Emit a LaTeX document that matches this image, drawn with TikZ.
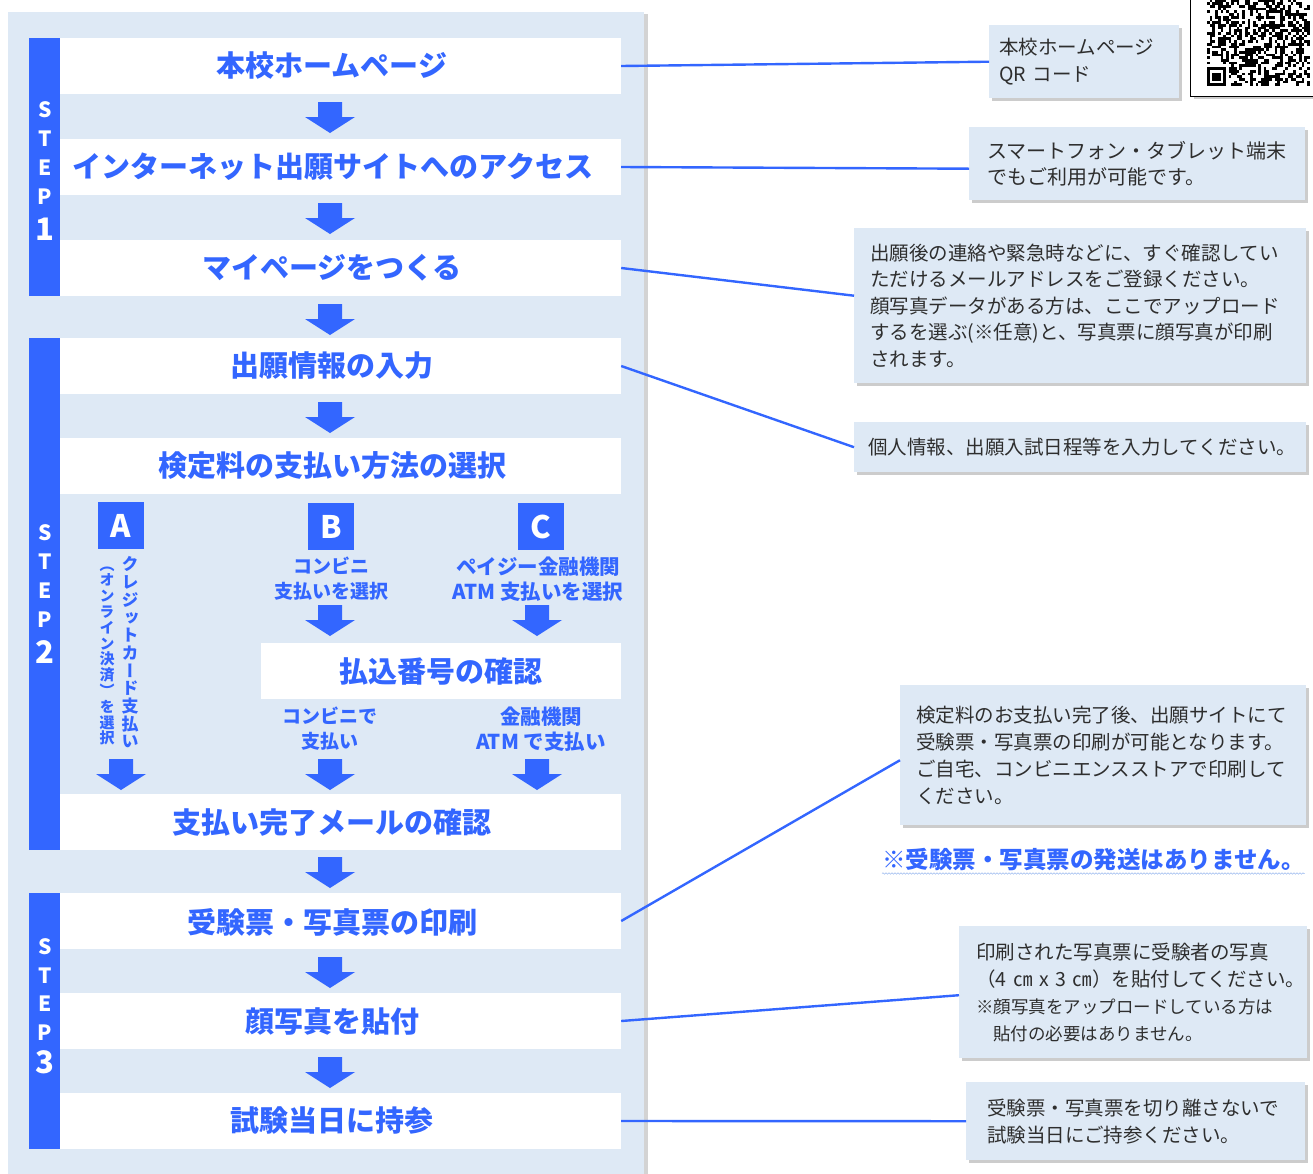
\documentclass[tikz,border=0pt]{standalone}
\usepackage{fontspec}
\setmainfont{Noto Sans CJK JP}
\newfontfamily\jpvert{Noto Sans CJK JP}[RawFeature=+vert]
\usetikzlibrary{shadows,decorations.pathmorphing}
\definecolor{panelbg}{HTML}{DEE9F5}
\definecolor{mainblue}{HTML}{3366FF}
\definecolor{notetext}{HTML}{2E2E2E}
\definecolor{wavyblue}{HTML}{9DBBEF}
\tikzset{
  panelfill/.style={fill=panelbg, drop shadow={shadow xshift=4pt, shadow yshift=-2pt, opacity=0.35}},
  stepbar/.style={fill=mainblue, inner sep=0, minimum width=31},
  steptxt/.style={text=white, font=\fontsize{21}{28.7}\selectfont\bfseries, align=center, inner sep=0},
  stepnum/.style={text=white, font=\fontsize{31}{33}\selectfont\bfseries, inner sep=0},
  wbox/.style={fill=white, inner sep=0, minimum height=56, minimum width=561},
  ttl/.style={text=mainblue, font=\fontsize{29}{31}\selectfont\bfseries, inner sep=0},
  sublbl/.style={text=mainblue, font=\fontsize{19}{25}\selectfont\bfseries, align=center, inner sep=0},
  sublblc/.style={sublbl, font=\fontsize{20.5}{25}\selectfont\bfseries},
  letterbox/.style={fill=mainblue, text=white, minimum width=46, minimum height=47, inner sep=0, font=\fontsize{31}{33}\selectfont\bfseries},
  vcol/.style={text=mainblue, align=center, inner sep=0},
  note/.style={fill=panelbg, anchor=north west, align=left, text=notetext, inner ysep=0, font=\fontsize{19.5}{26.5}\selectfont, drop shadow={shadow xshift=3pt, shadow yshift=-3pt, opacity=0.4}},
  link/.style={draw=mainblue, line width=2.4pt},
  darrow/.pic={\fill[mainblue] (-12,0) -- (12,0) -- (12,15) -- (25,15) -- (0,31) -- (-25,15) -- (-12,15) -- cycle;},
}
\begin{document}
\begin{tikzpicture}[x=1pt,y=-1pt]
\useasboundingbox (0,0) rectangle (1313,1173);
% panel
\fill[panelfill] (8,12) rectangle (644,1195);
% step bars
\node[stepbar, minimum height=258] (sb1) at (44.5,167) {};
\node[stepbar, minimum height=512] (sb2) at (44.5,594) {};
\node[stepbar, minimum height=256] (sb3) at (44.5,1021) {};
\node[steptxt] (st1) at (45,153) {S\\T\\E\\P};
\node[stepnum] (sn1) at (45,229) {1};
\node[steptxt] (st2) at (45,576) {S\\T\\E\\P};
\node[stepnum] (sn2) at (45,652) {2};
\node[steptxt] (st3) at (45,989.5) {S\\T\\E\\P};
\node[stepnum] (sn3) at (45,1062) {3};
% white boxes
\node[wbox] (b1) at (340.5,66) {};
\node[wbox] (b2) at (340.5,167) {};
\node[wbox] (b3) at (340.5,268) {};
\node[wbox] (b4) at (340.5,366) {};
\node[wbox] (b5) at (340.5,466) {};
\node[wbox, minimum width=360] (b6) at (441,671) {};
\node[wbox] (b7) at (340.5,822) {};
\node[wbox] (b8) at (340.5,921) {};
\node[wbox] (b9) at (340.5,1021) {};
\node[wbox] (b10) at (340.5,1121) {};
% titles
\node[ttl] (t1) at (332,66) {本校ホームページ};
\node[ttl] (t2) at (333,167) {インターネット出願サイトへのアクセス};
\node[ttl] (t3) at (332,268) {マイページをつくる};
\node[ttl] (t4) at (332,366) {出願情報の入力};
\node[ttl] (t5) at (332,466) {検定料の支払い方法の選択};
\node[ttl] (t6) at (441,671) {払込番号の確認};
\node[ttl] (t7) at (332,822) {支払い完了メールの確認};
\node[ttl] (t8) at (332,922) {受験票・写真票の印刷};
\node[ttl] (t9) at (332,1021) {顔写真を貼付};
\node[ttl] (t10) at (332,1121) {試験当日に持参};
% arrows
\foreach \ay in {102,203,304,402,857,957,1057} {\pic at (330,\ay) {darrow};}
\pic at (330,605) {darrow};
\pic at (537,605) {darrow};
\pic at (121,759) {darrow};
\pic at (330,759) {darrow};
\pic at (537,759) {darrow};
% A B C
\node[letterbox] (la) at (121,525.5) {A};
\node[letterbox] (lb) at (331,526.5) {B};
\node[letterbox] (lc) at (541,526.5) {C};
\node[vcol, font=\jpvert\fontsize{17}{17.7}\selectfont\bfseries] (va1) at (130,652.5) {ク\\レ\\ジ\\ッ\\ト\\カ\\ー\\ド\\支\\払\\い};
\node[vcol, font=\jpvert\fontsize{15}{15.8}\selectfont\bfseries] (va2) at (107,656) {（\\オ\\ン\\ラ\\イ\\ン\\決\\済\\）\\を\\選\\択};
\node[sublbl] (lb1) at (331,578.5) {コンビニ\\支払いを選択};
\node[sublblc] (lc1) at (538,579.5) {ペイジー金融機関\\ATM 支払いを選択};
\node[sublbl] (lb2) at (330,729) {コンビニで\\支払い};
\node[sublblc] (lc2) at (541,729) {金融機関\\ATM で支払い};
% QR
\node[draw=black, line width=1.3pt, fill=white, minimum width=140, minimum height=115, anchor=south west, inner sep=0, drop shadow={shadow xshift=3pt, shadow yshift=-3pt, opacity=0.4}] (qr) at (1190,97) {};
\pgfmathsetseed{4242}
\foreach \qi in {0,...,37}{\foreach \qj in {0,...,31}{\pgfmathrandominteger{\qrbit}{0}{1}\ifnum\qrbit=1 \fill[black] (1207+\qi*2.7,86-\qj*2.7) rectangle ++(2.7,-2.7);\fi}}
\fill[white] (1207,86) rectangle (1228.6,64.4);
\fill[black] (1207,86) rectangle (1225.9,67.1);
\fill[white] (1209.7,83.3) rectangle (1223.2,69.8);
\fill[black] (1212.4,80.6) rectangle (1220.5,72.5);
% notes
\node[note, minimum width=190, minimum height=73, text width=170, inner xsep=10] (n1) at (989,25) {本校ホームページ\\QR~コード};
\node[note, minimum width=336, minimum height=73, text width=300, inner xsep=18, font=\fontsize{20}{26.5}\selectfont] (n2) at (969,127) {スマートフォン・タブレット端末\\でもご利用が可能です。};
\node[note, minimum width=452, minimum height=155, text width=420, inner xsep=16] (n3) at (854,228) {出願後の連絡や緊急時などに、すぐ確認してい\\ただけるメールアドレスをご登録ください。\\顔写真データがある方は、ここでアップロード\\するを選ぶ(※任意)と、写真票に顔写真が印刷\\されます。};
\node[note, minimum width=452, minimum height=50, text width=424, inner xsep=14] (n4) at (854,422) {個人情報、出願入試日程等を入力してください。};
\node[note, minimum width=406, minimum height=140, text width=374, inner xsep=16, font=\fontsize{19.5}{27}\selectfont] (n5) at (900,685) {検定料のお支払い完了後、出願サイトにて\\受験票・写真票の印刷が可能となります。\\ご自宅、コンビニエンスストアで印刷して\\ください。};
\node[text=mainblue, font=\fontsize{23.5}{25}\selectfont\bfseries, inner sep=0, anchor=west] (n6) at (882,860) {※受験票・写真票の発送はありません。};
\draw[wavyblue, line width=0.6pt, decorate, decoration={snake, amplitude=0.7pt, segment length=3pt}] ([yshift=-2pt]n6.south west) -- ([yshift=-2pt]n6.south east);
\node[note, minimum width=348, minimum height=132, text width=314, inner xsep=17, font=\fontsize{19.5}{27}\selectfont] (n7) at (959,926) {印刷された写真票に受験者の写真\\（4~㎝~x~3~㎝）を貼付してください。\\{\fontsize{17.5}{27}\selectfont ※顔写真をアップロードしている方は\\\hspace*{17pt}貼付の必要はありません。}};
\node[note, minimum width=339, minimum height=78, text width=297, inner xsep=21, font=\fontsize{19.5}{27}\selectfont] (n8) at (966,1082) {受験票・写真票を切り離さないで\\試験当日にご持参ください。};
% links
\draw[link] (b1.east) -- (n1.west);
\draw[link] (b2.east) -- ([yshift=-5pt]n2.west);
\draw[link] (b3.east) -- ([yshift=10pt]n3.west);
\draw[link] (b4.east) -- (n4.west);
\draw[link] (b8.east) -- ([yshift=-5pt]n5.west);
\draw[link] (b9.east) -- ([yshift=-3pt]n7.west);
\draw[link] (b10.east) -- (n8.west);
\end{tikzpicture}
\end{document}
